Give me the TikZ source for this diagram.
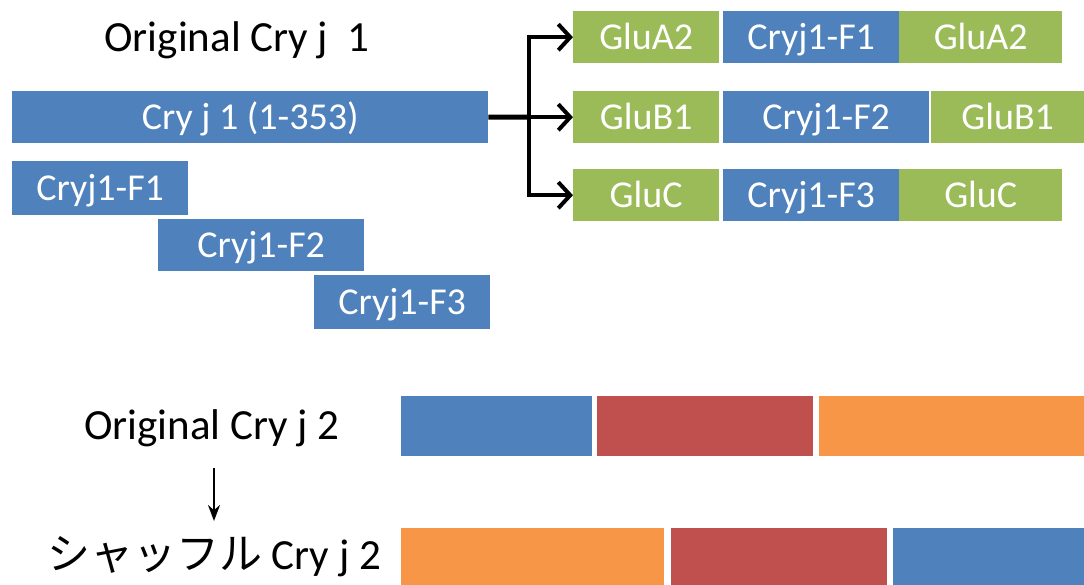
\documentclass[tikz,border=0pt]{standalone}
\usepackage{fontspec}
\setmainfont{Carlito}
\newfontfamily\jafont{Noto Sans CJK JP}
\usetikzlibrary{arrows.meta}
\definecolor{bleu}{HTML}{4F81BD}
\definecolor{vert}{HTML}{9BBB59}
\definecolor{rouge}{HTML}{C0504D}
\definecolor{orangeB}{HTML}{F79646}
\tikzset{bloc/.style={fill=#1, text=white, inner sep=0pt, anchor=north west,
		text height=24pt, text depth=0pt, font=\fontsize{38}{42}\selectfont},
	titre/.style={anchor=base, font=\fontsize{43}{48}\selectfont},
	fleche/.style={line width=4pt, -{Straight Barb[length=12pt,width=26pt,line width=4pt]}}}
% #1 nom, #2 couleur, #3 x, #4 y (haut), #5 largeur, #6 hauteur, #7 texte
\newcommand{\Bloc}[7]{\node[bloc=#2, minimum width=#5pt, minimum height=#6pt] (#1) at (#3,#4) {#7}}

\begin{document}
\begin{tikzpicture}[x=1pt,y=-1pt]
\useasboundingbox (0,0) rectangle (1084,585);

%Cry j 1 et ses fragments
\node[titre] (t1) at (237,52) {Original Cry j\ \ 1};
\Bloc{cj1}{bleu}{12}{91}{476}{52}{Cry j 1 (1-353)};
\Bloc{f1}{bleu}{12}{161}{176}{54}{Cryj1-F1};
\Bloc{f2}{bleu}{158}{219}{206}{52}{Cryj1-F2};
\Bloc{f3}{bleu}{314}{275}{176}{54}{Cryj1-F3};

%Constructions
\Bloc{ga1}{vert}{573}{11}{146}{52}{GluA2};
\Bloc{rf1}{bleu}{723}{11}{176}{52}{Cryj1-F1};
\Bloc{ga2}{vert}{899}{11}{163}{52}{GluA2};

\Bloc{gb1}{vert}{573}{91}{146}{52}{GluB1};
\Bloc{rf2}{bleu}{723}{91}{206}{52}{Cryj1-F2};
\Bloc{gb2}{vert}{931}{91}{153}{52}{GluB1};

\Bloc{gc1}{vert}{573}{169}{146}{52}{GluC};
\Bloc{rf3}{bleu}{723}{169}{176}{52}{Cryj1-F3};
\Bloc{gc2}{vert}{899}{169}{163}{52}{GluC};

%Fleches
\coordinate (br) at (529,117);
\draw[line width=5pt] (cj1.east) -- (br);
\draw[fleche] (br) |- (ga1.west);
\draw[fleche] (br) |- (gb1.west);
\draw[fleche] (br) |- (gc1.west);

%Cry j 2
\node[titre] (t2) at (212,439) {Original Cry j 2};
\Bloc{o1}{bleu}{401}{396}{191}{60}{};
\Bloc{o2}{rouge}{597}{396}{216}{60}{};
\Bloc{o3}{orangeB}{819}{396}{265}{60}{};

\coordinate (h) at (214,468);
\coordinate (b) at (214,521);
\draw[line width=2.5pt, -{Stealth[length=16pt,width=12pt]}] (h) -- (b);

\node[titre] (t3) at (214,569) {{\jafont シャッフル} Cry j 2};
\Bloc{s1}{orangeB}{401}{528}{263}{57}{};
\Bloc{s2}{rouge}{671}{528}{216}{57}{};
\Bloc{s3}{bleu}{893}{528}{191}{57}{};

\end{tikzpicture}
\end{document}
